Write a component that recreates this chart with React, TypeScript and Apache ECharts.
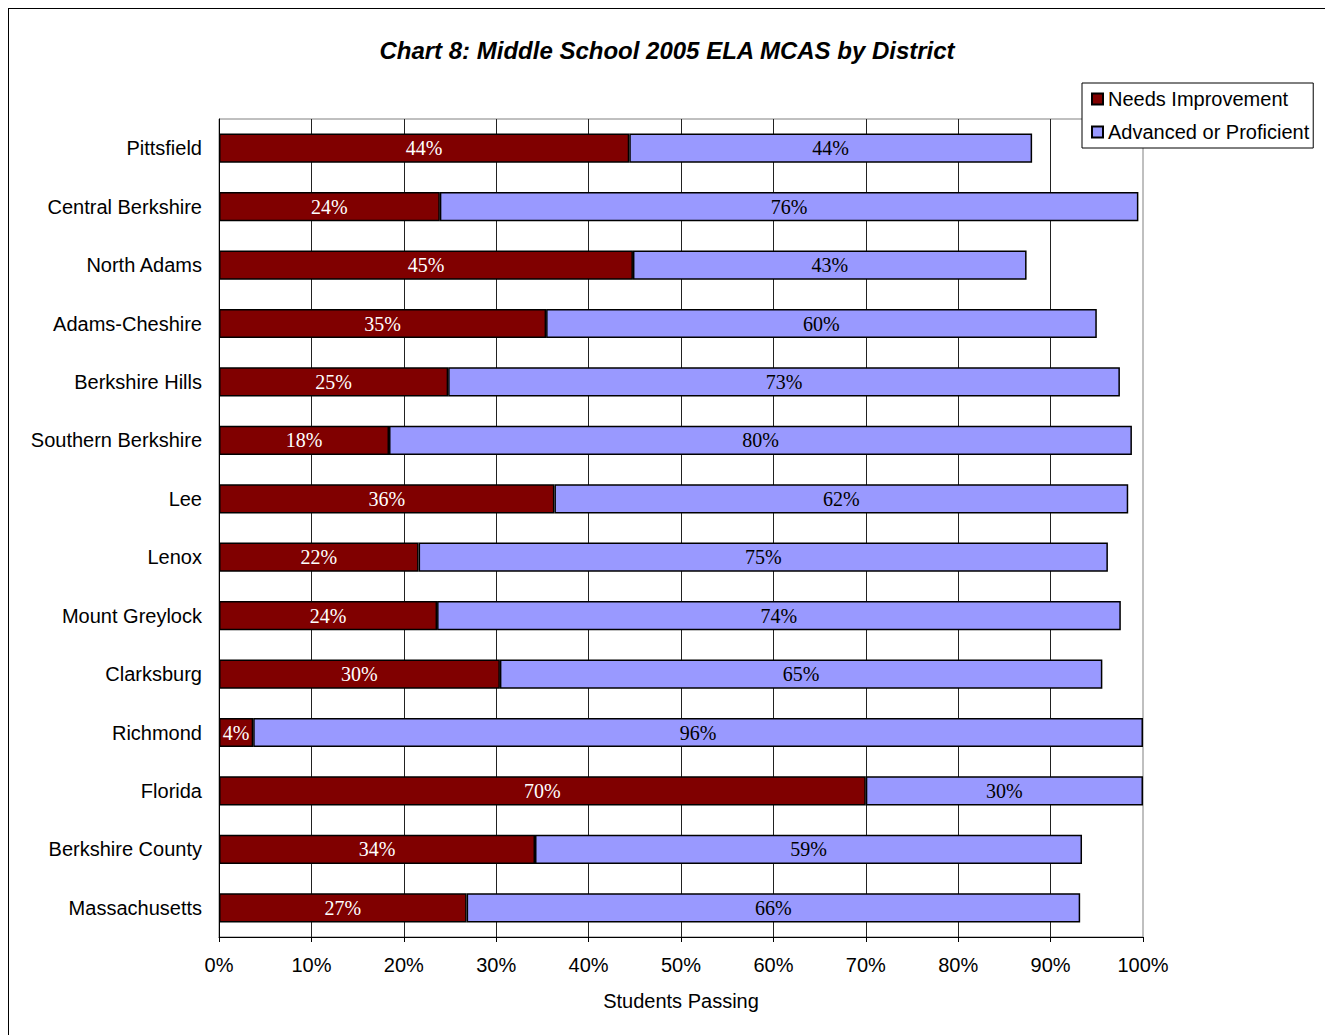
import React, { useEffect, useRef } from "react";
import * as echarts from "echarts";

const districts = [
  "Pittsfield",
  "Central Berkshire",
  "North Adams",
  "Adams-Cheshire",
  "Berkshire Hills",
  "Southern Berkshire",
  "Lee",
  "Lenox",
  "Mount Greylock",
  "Clarksburg",
  "Richmond",
  "Florida",
  "Berkshire County",
  "Massachusetts",
];

const needsImprovement = [44.4, 23.9, 44.8, 35.4, 24.8, 18.4, 36.3, 21.6, 23.6, 30.4, 3.7, 70.0, 34.2, 26.8];
const advancedOrProficient = [43.6, 75.6, 42.6, 59.6, 72.7, 80.4, 62.1, 74.6, 74.0, 65.2, 96.3, 30.0, 59.2, 66.4];

const xTicks = [0, 10, 20, 30, 40, 50, 60, 70, 80, 90, 100];

const SANS = "'Liberation Sans', Arial, sans-serif";
const SERIF = "'Liberation Serif', 'Times New Roman', serif";

export default function App() {
  const ref = useRef<HTMLDivElement>(null);

  useEffect(() => {
    if (!ref.current) return;
    const chart = echarts.init(ref.current, undefined, { renderer: "svg" });
    const labelFmt = (p: any) => Math.round(p.value) + "%";
    chart.setOption({
      animation: false,
      backgroundColor: "#fff",
      title: {
        text: "Chart 8: Middle School 2005 ELA MCAS by District",
        left: "center",
        top: 24,
        padding: [5, 5, 5, 17],
        textStyle: {
          fontFamily: SANS,
          fontSize: 24,
          fontWeight: "bold",
          fontStyle: "italic",
          color: "#000",
        },
      },
      legend: {
        orient: "vertical",
        left: 1073,
        top: 74,
        padding: [6, 4, 6, 9],
        itemGap: 13,
        itemWidth: 11,
        itemHeight: 11,
        icon: "rect",
        backgroundColor: "#fff",
        borderColor: "#000",
        borderWidth: 1,
        z: 10,
        textStyle: { fontFamily: SANS, fontSize: 20, color: "#000" },
        data: ["Needs Improvement", "Advanced or Proficient"],
      },
      grid: {
        left: 210,
        top: 110,
        width: 924,
        height: 818,
        show: true,
        borderColor: "#808080",
        borderWidth: 1,
        containLabel: false,
      },
      xAxis: {
        type: "value",
        min: 0,
        max: 100,
        interval: 10,
        name: "Students Passing",
        nameLocation: "middle",
        nameGap: 54,
        nameTextStyle: { fontFamily: SANS, fontSize: 20, color: "#000" },
        axisLine: { show: true, lineStyle: { color: "#000", width: 1 } },
        axisTick: { show: true, length: 5, lineStyle: { color: "#000" } },
        axisLabel: {
          margin: 18,
          fontFamily: SANS,
          fontSize: 20,
          color: "#000",
          formatter: (v: number) => (xTicks.includes(v) ? v + "%" : ""),
        },
        splitLine: {
          show: true,
          showMaxLine: false,
          lineStyle: { color: "#222", width: 1 },
        },
      },
      yAxis: {
        type: "category",
        inverse: true,
        data: districts,
        axisLine: { show: true, lineStyle: { color: "#000", width: 1 } },
        axisTick: { show: false },
        axisLabel: {
          margin: 17,
          fontFamily: SANS,
          fontSize: 20,
          color: "#000",
          padding: [0, 0, 4, 0],
        },
        splitLine: { show: false },
      },
      series: [
        {
          name: "Needs Improvement",
          type: "bar",
          stack: "total",
          barWidth: "50%",
          data: needsImprovement,
          itemStyle: { color: "#800000", borderColor: "#000", borderWidth: 1.5 },
          label: {
            show: true,
            position: "inside",
            formatter: labelFmt,
            fontFamily: SERIF,
            fontSize: 20,
            color: "#fff",
          },
        },
        {
          name: "Advanced or Proficient",
          type: "bar",
          stack: "total",
          barWidth: "50%",
          data: advancedOrProficient,
          itemStyle: { color: "#9999FF", borderColor: "#000", borderWidth: 1.5 },
          label: {
            show: true,
            position: "inside",
            formatter: labelFmt,
            fontFamily: SERIF,
            fontSize: 20,
            color: "#000",
          },
        },
      ],
    });
    return () => chart.dispose();
  }, []);

  return (
    <div
      style={{
        position: "fixed",
        left: 8,
        top: 8,
        width: 1340,
        height: 1050,
        border: "1px solid #000",
        background: "#fff",
        overflow: "hidden",
      }}
    >
      <div ref={ref} style={{ width: 1316, height: 1026 }} />
    </div>
  );
}
